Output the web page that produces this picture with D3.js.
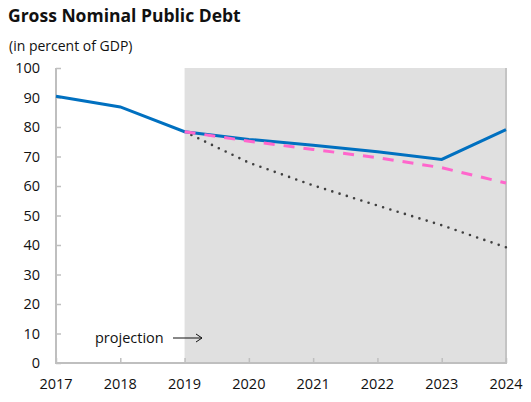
<!DOCTYPE html>
<html><head><meta charset="utf-8">
<script src="https://cdn.jsdelivr.net/npm/d3@7"></script>
<style>body{margin:0;background:#fff;} text{font-family:"Open Sans","Noto Sans",sans-serif;fill:#111;}</style>
</head><body>
<svg id="c" width="531" height="402"></svg>
<script>
const years = [2017, 2018, 2019, 2020, 2021, 2022, 2023, 2024];
const baseline = [90.4, 86.8, 78.4, 75.8, 73.8, 71.6, 69.0, 79.1];
const pinkYears = [2019, 2020, 2021, 2022, 2023, 2024];
const pinkValues = [78.4, 75.2, 72.4, 69.6, 66.2, 61.0];
const dotYears = [2019, 2020, 2021, 2022, 2023, 2024];
const dotValues = [78.4, 67.9, 60.2, 53.4, 46.7, 39.2];
const yTicks = [0, 10, 20, 30, 40, 50, 60, 70, 80, 90, 100];
const projStart = 2019;

const svg = d3.select("#c");
const x = d3.scaleLinear().domain([2017, 2024]).range([56, 506]);
const y = d3.scaleLinear().domain([0, 100]).range([363, 68]);

svg.append("text").attr("x", 8).attr("y", 22).attr("font-size", 17.5).attr("font-weight", 700).text("Gross Nominal Public Debt");
svg.append("text").attr("x", 9).attr("y", 51).attr("font-size", 14).text("(in percent of GDP)");

// projection shading
svg.append("rect").attr("x", x(projStart)).attr("y", y(100)).attr("width", x(2024) - x(projStart)).attr("height", y(0) - y(100)).attr("fill", "#e0e0e0");
svg.append("line").attr("x1", x(2024)).attr("x2", x(2024)).attr("y1", y(100)).attr("y2", y(0)).attr("stroke", "#c4c4c4").attr("stroke-width", 2);

// axes
const yAxis = d3.axisRight(y).tickValues(yTicks).tickSize(5).tickFormat("");
const gy = svg.append("g").attr("transform", `translate(${x(2017)},0)`).call(yAxis);
gy.select(".domain").remove();
gy.selectAll("line").attr("stroke", "#bfbfbf").attr("stroke-width", 1.5);
svg.append("g").selectAll("text").data(yTicks).join("text")
  .attr("x", 40).attr("y", d => y(d) + 5).attr("text-anchor", "end").attr("font-size", 14.5).text(d => d);

const xAxis = d3.axisTop(x).tickValues(years).tickSize(5).tickFormat("");
const gx = svg.append("g").attr("transform", `translate(0,${y(0)})`).call(xAxis);
gx.select(".domain").remove();
gx.selectAll("line").attr("stroke", "#bfbfbf").attr("stroke-width", 1.5);
svg.append("g").selectAll("text").data(years).join("text")
  .attr("x", d => x(d)).attr("y", 389).attr("text-anchor", "middle").attr("font-size", 14.5).text(d => d);

svg.append("line").attr("x1", x(2017)).attr("x2", x(2017)).attr("y1", y(100)).attr("y2", y(0) + 1).attr("stroke", "#bfbfbf").attr("stroke-width", 2);
svg.append("line").attr("x1", x(2017) - 1).attr("x2", x(2024) + 1).attr("y1", y(0)).attr("y2", y(0)).attr("stroke", "#bfbfbf").attr("stroke-width", 2);

const line = d3.line().x(d => x(d[0])).y(d => y(d[1]));
svg.append("path").datum(dotYears.map((d, i) => [d, dotValues[i]])).attr("d", line)
  .attr("fill", "none").attr("stroke", "#404040").attr("stroke-width", 2.6).attr("stroke-linecap", "round").attr("stroke-dasharray", "0,7.6");
svg.append("path").datum(years.map((d, i) => [d, baseline[i]])).attr("d", line)
  .attr("fill", "none").attr("stroke", "#0070C0").attr("stroke-width", 3);
svg.append("path").datum(pinkYears.map((d, i) => [d, pinkValues[i]])).attr("d", line)
  .attr("fill", "none").attr("stroke", "#FF66CC").attr("stroke-width", 3).attr("stroke-dasharray", "11,9");

// projection label
svg.append("text").attr("x", 95).attr("y", 343).attr("font-size", 14.5).text("projection");
svg.append("line").attr("x1", 173).attr("x2", 202).attr("y1", 338).attr("y2", 338).attr("stroke", "#111").attr("stroke-width", 1);
svg.append("path").attr("d", "M196,334 L202,338 L196,342").attr("fill", "none").attr("stroke", "#111").attr("stroke-width", 1);
</script>
</body></html>
